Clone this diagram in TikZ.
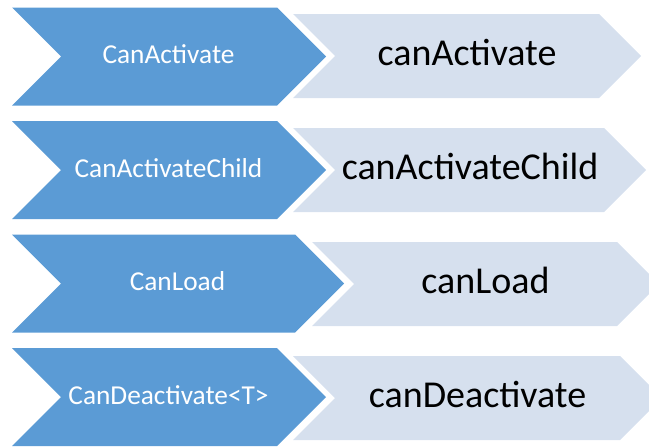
\documentclass[tikz,border=0pt]{standalone}
\usepackage{fontspec}
\setmainfont{Carlito}
\usepackage{tikz}
\definecolor{guardblue}{RGB}{91,155,213}
\definecolor{hookblue}{RGB}{214,224,238}
\tikzset{
guard/.style={fill=guardblue}, % dark chevron with the guard interface
hook/.style={fill=hookblue}, % light chevron with the method name
guard text/.style={anchor=base, text=white, font=\fontsize{20.5}{24}\selectfont}, % text in the dark chevron
hook text/.style={anchor=base, text=black, font=\fontsize{28.5}{34}\selectfont}, % text in the light chevron
}
% #1 style, #2 left x, #3 right x of the body, #4 middle y, #5 half height
\newcommand{\chev}[5]{%
  \fill[#1] (#2,{#4-#5}) -- (#3,{#4-#5}) -- ({#3+#5},#4) -- (#3,{#4+#5})
    -- (#2,{#4+#5}) -- ({#2+#5},#4) -- cycle;}

\begin{document}
\begin{tikzpicture}[x=0.75pt, y=-0.75pt]
    \useasboundingbox (0,0) rectangle (649,446);
    \clip (0,0) rectangle (649,446);
    \chev{hook}{293}{599}{56}{42}
    \chev{hook}{293}{604}{170}{42}
    \chev{hook}{312}{617}{284}{42}
    \chev{hook}{293}{620}{398}{42}
    \chev{guard}{12}{277}{56.5}{49}
    \chev{guard}{12}{277}{170}{49}
    \chev{guard}{12}{295}{283.5}{49}
    \chev{guard}{12}{277}{397}{49}
    \node[guard text] (g1) at (168.5,63.5) {CanActivate};
    \node[guard text] (g2) at (168.5,177) {CanActivateChild};
    \node[guard text] (g3) at (177.5,290.5) {CanLoad};
    \node[guard text] (g4) at (168.5,404) {CanDeactivate<T>};
    \node[hook text] (h1) at (467,65) {canActivate};
    \node[hook text] (h2) at (470,179) {canActivateChild};
    \node[hook text] (h3) at (485.5,293) {canLoad};
    \node[hook text] (h4) at (477.5,407) {canDeactivate};
\end{tikzpicture}
\end{document}
